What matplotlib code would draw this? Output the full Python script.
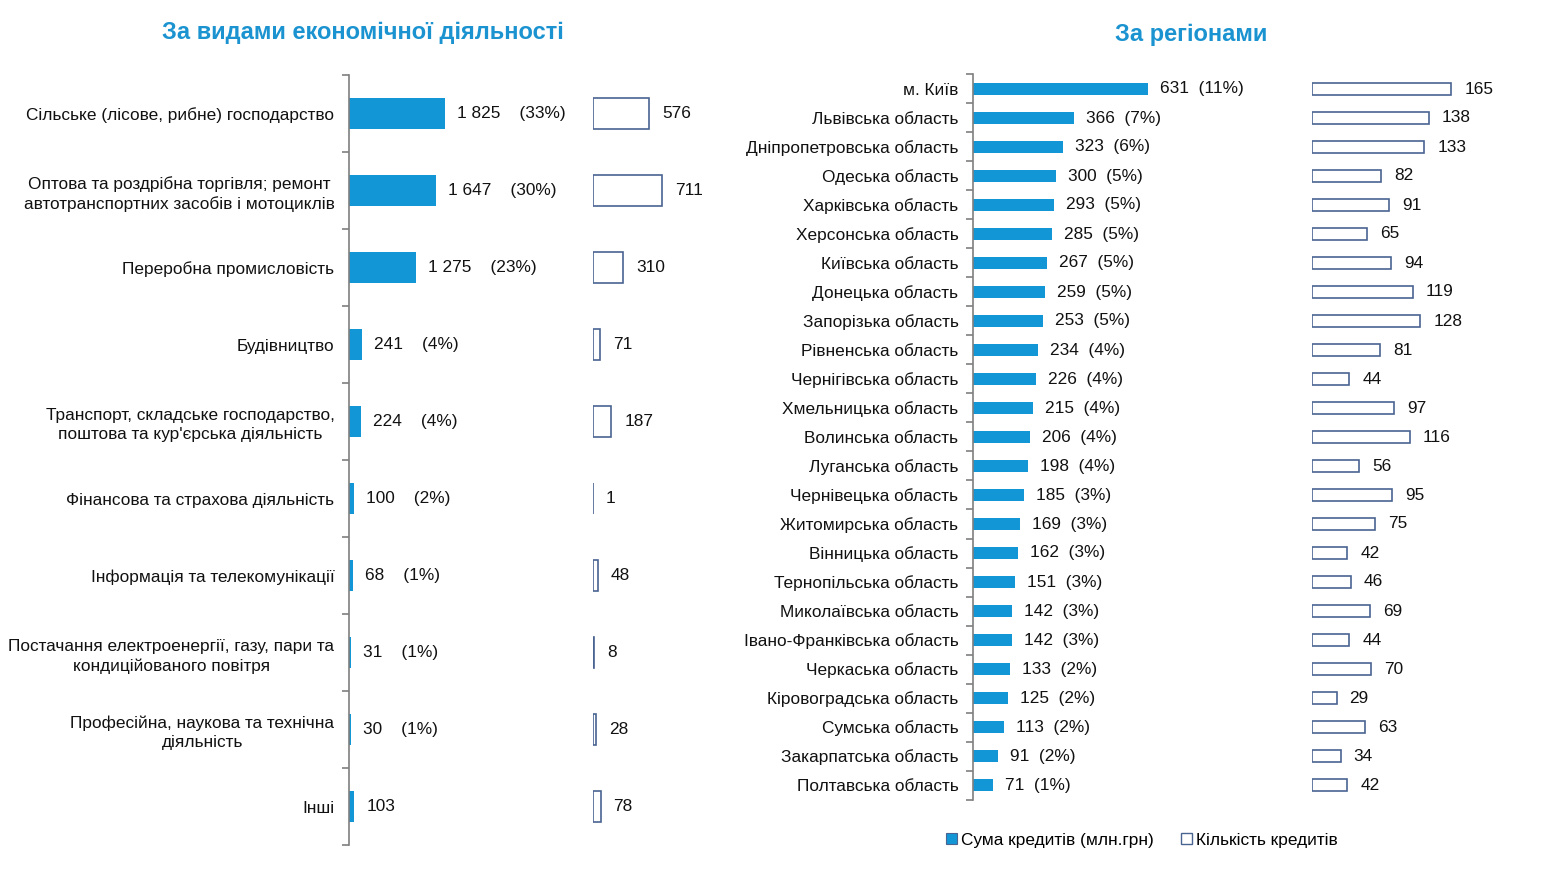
import matplotlib.pyplot as plt
from matplotlib.patches import Patch
import numpy as np

plt.rcParams['font.family'] = ['Liberation Sans', 'DejaVu Sans']

# Left panel: by economic activity
activities = [
    'Сільське (лісове, рибне) господарство',
    'Оптова та роздрібна торгівля; ремонт\nавтотранспортних засобів і мотоциклів',
    'Переробна промисловість',
    'Будівництво',
    'Транспорт, складське господарство,\nпоштова та кур\'єрська діяльність',
    'Фінансова та страхова діяльність',
    'Інформація та телекомунікації',
    'Постачання електроенергії, газу, пари та\nкондиційованого повітря',
    'Професійна, наукова та технічна\nдіяльність',
    'Інші',
]
act_sum = [1825, 1647, 1275, 241, 224, 100, 68, 31, 30, 103]
act_pct = [33, 30, 23, 4, 4, 2, 1, 1, 1, None]
act_count = [576, 711, 310, 71, 187, 1, 48, 8, 28, 78]

# Right panel: by region
regions = [
    'м. Київ', 'Львівська область', 'Дніпропетровська область', 'Одеська область',
    'Харківська область', 'Херсонська область', 'Київська область', 'Донецька область',
    'Запорізька область', 'Рівненська область', 'Чернігівська область',
    'Хмельницька область', 'Волинська область', 'Луганська область',
    'Чернівецька область', 'Житомирська область', 'Вінницька область',
    'Тернопільська область', 'Миколаївська область', 'Івано-Франківська область',
    'Черкаська область', 'Кіровоградська область', 'Сумська область',
    'Закарпатська область', 'Полтавська область',
]
reg_sum = [631, 366, 323, 300, 293, 285, 267, 259, 253, 234, 226, 215, 206, 198,
           185, 169, 162, 151, 142, 142, 133, 125, 113, 91, 71]
reg_pct = [11, 7, 6, 5, 5, 5, 5, 5, 5, 4, 4, 4, 4, 4, 3, 3, 3, 3, 3, 3, 2, 2, 2, 2, 1]
reg_count = [165, 138, 133, 82, 91, 65, 94, 119, 128, 81, 44, 97, 116, 56, 95, 75,
             42, 46, 69, 44, 70, 29, 63, 34, 42]

BLUE = '#1296d6'
EDGE = '#4a6491'
TITLE = '#1a93d0'
TXT = '#111111'
FS = 12.4
W, H = 1541, 871

fig = plt.figure(figsize=(W / 100, H / 100), dpi=100)


def px_axes(x0, y0, x1, y1):
    return fig.add_axes([x0 / W, 1 - y1 / H, (x1 - x0) / W, (y1 - y0) / H])


def fmt(v):
    return f'{v:,}'.replace(',', ' ')


def filled_panel(ax, labels, vals, pcts, xmax, height, gap):
    n = len(vals)
    y = np.arange(n)
    ax.barh(y, vals, height=height, color=BLUE)
    ax.set_xlim(0, xmax)
    ax.set_ylim(n - 0.5, -0.5)
    for s in ['top', 'right', 'bottom']:
        ax.spines[s].set_visible(False)
    ax.spines['left'].set_color('#7f7f7f')
    ax.spines['left'].set_linewidth(1.2)
    ax.set_xticks([])
    ax.set_yticks(y)
    ax.set_yticklabels(labels, fontsize=FS, color=TXT, multialignment='center',
                       linespacing=1.35)
    ax.tick_params(axis='y', which='major', length=0, pad=10.5)
    ax.set_yticks(np.arange(n + 1) - 0.5, minor=True)
    ax.tick_params(axis='y', which='minor', length=5, color='#7f7f7f', width=1.2)
    for yi, v, p in zip(y, vals, pcts):
        s = fmt(v) if p is None else fmt(v) + gap + f'({p}%)'
        ax.annotate(s, (v, yi), xytext=(12, 0), textcoords='offset pixels',
                    va='center', ha='left', fontsize=FS, color=TXT)


def outline_panel(ax, vals, xmax, height, n):
    y = np.arange(n)
    ax.barh(y, vals, height=height, facecolor='white', edgecolor=EDGE, linewidth=1.2)
    ax.set_xlim(0, xmax)
    ax.set_ylim(n - 0.5, -0.5)
    ax.axis('off')
    for yi, v in zip(y, vals):
        ax.annotate(str(v), (v, yi), xytext=(13, 0), textcoords='offset pixels',
                    va='center', ha='left', fontsize=FS, color=TXT)


# left panel
ax1 = px_axes(349, 75, 569, 845)
filled_panel(ax1, activities, act_sum, act_pct, 220 / 0.0527, 0.39, '    ')
ax2 = px_axes(593, 75, 743, 845)
outline_panel(ax2, act_count, 150 / 0.097, 0.39, len(act_count))

# right panel
ax3 = px_axes(973, 74.5, 1273, 799.5)
filled_panel(ax3, regions, reg_sum, reg_pct, 300 / 0.2773, 0.38, '  ')
ax4 = px_axes(1312, 74.5, 1512, 799.5)
outline_panel(ax4, reg_count, 200 / 0.845, 0.38, len(reg_count))

fig.text(363 / W, 1 - 32 / H, 'За видами економічної діяльності', ha='center', va='center',
         fontsize=17, fontweight='bold', color=TITLE)
fig.text(1191 / W, 1 - 35 / H, 'За регіонами', ha='center', va='center',
         fontsize=17, fontweight='bold', color=TITLE)

handles = [Patch(facecolor=BLUE, edgecolor=EDGE, linewidth=0.8),
           Patch(facecolor='white', edgecolor=EDGE, linewidth=1.0)]
fig.legend(handles, ['Сума кредитів (млн.грн)', 'Кількість кредитів'],
           loc='center', bbox_to_anchor=(1142 / W, 1 - 840 / H), ncol=2, frameon=False,
           handlelength=0.6, handleheight=0.6, handletextpad=0.25, columnspacing=1.6,
           fontsize=FS)

fig.savefig('out.png', dpi=100)
